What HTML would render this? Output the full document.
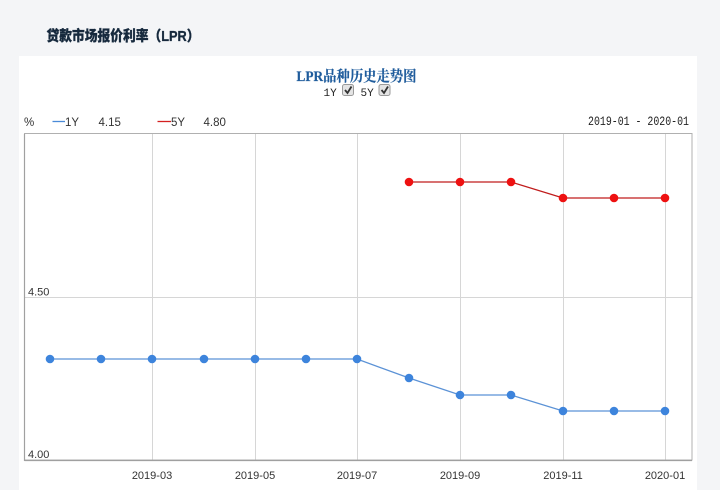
<!DOCTYPE html>
<html><head><meta charset="utf-8"><style>
html,body{margin:0;padding:0;width:720px;height:490px;overflow:hidden;background:#f4f5f7;}
svg{display:block;}
</style></head><body>
<svg width="720" height="490" viewBox="0 0 720 490" xmlns="http://www.w3.org/2000/svg">
<rect x="0" y="0" width="720" height="490" fill="#f4f5f7"/>
<text x="46.5" y="41" font-family="'Liberation Sans','Noto Sans CJK SC',sans-serif" font-weight="900" font-size="14.5" fill="#16293d" stroke="#16293d" stroke-width="0.3" textLength="153" lengthAdjust="spacingAndGlyphs">贷款市场报价利率（LPR）</text>
<rect x="19" y="56" width="678" height="434" fill="#ffffff"/>
<text x="296.5" y="81" font-family="'Liberation Serif','Noto Serif CJK SC',serif" font-weight="bold" font-size="15" fill="#1f5c9c" stroke="#1f5c9c" stroke-width="0.2" textLength="120" lengthAdjust="spacingAndGlyphs">LPR品种历史走势图</text>
<text x="323.5" y="96" font-family="'Liberation Mono',monospace" font-size="11" fill="#222">1Y</text>
<rect x="342.5" y="84.5" width="11" height="11" rx="2" fill="#e4e4e4" stroke="#9a9a9a"/>
<path d="M345 90 L347.5 93 L351.5 86.5" stroke="#333" stroke-width="1.8" fill="none"/>
<text x="360.5" y="96" font-family="'Liberation Mono',monospace" font-size="11" fill="#222">5Y</text>
<rect x="379" y="84.5" width="11" height="11" rx="2" fill="#e4e4e4" stroke="#9a9a9a"/>
<path d="M381.5 90 L384 93 L388 86.5" stroke="#333" stroke-width="1.8" fill="none"/>
<g font-family="'Liberation Sans',sans-serif" font-size="11.5" fill="#333">
<text x="24" y="126">%</text>
<line x1="52.5" y1="121.5" x2="65" y2="121.5" stroke="#4a8ad8" stroke-width="1.3"/>
<text x="65" y="126">1Y</text>
<text x="98.5" y="126">4.15</text>
<line x1="157.5" y1="121.5" x2="171" y2="121.5" stroke="#d42020" stroke-width="1.3"/>
<text x="171" y="126">5Y</text>
<text x="203.5" y="126">4.80</text>
</g>
<text x="588" y="125" font-family="'Liberation Mono',monospace" font-size="12.5" fill="#222" textLength="101" lengthAdjust="spacingAndGlyphs">2019-01 - 2020-01</text>
<g stroke="#d6d6d6" stroke-width="1">
<line x1="152.5" y1="134" x2="152.5" y2="460"/>
<line x1="255.5" y1="134" x2="255.5" y2="460"/>
<line x1="357.5" y1="134" x2="357.5" y2="460"/>
<line x1="460.5" y1="134" x2="460.5" y2="460"/>
<line x1="563.5" y1="134" x2="563.5" y2="460"/>
<line x1="665.5" y1="134" x2="665.5" y2="460"/>
<line x1="24" y1="297.5" x2="692" y2="297.5"/>
</g>
<rect x="24.5" y="133.5" width="667.5" height="326.5" fill="none" stroke="#b0b0b0" stroke-width="1"/>
<line x1="24.5" y1="460.5" x2="692" y2="460.5" stroke="#a0a0a0" stroke-width="1.2"/>
<line x1="24.5" y1="134" x2="24.5" y2="461" stroke="#a0a0a0" stroke-width="1.2"/>
<g font-family="'Liberation Sans',sans-serif" font-size="11" fill="#333">
<text x="28" y="295.5">4.50</text>
<text x="28" y="458">4.00</text>
</g>
<g font-family="'Liberation Sans',sans-serif" font-size="11" fill="#333" text-anchor="middle">
<text x="152" y="479">2019-03</text>
<text x="255" y="479">2019-05</text>
<text x="357" y="479">2019-07</text>
<text x="460" y="479">2019-09</text>
<text x="563" y="479">2019-11</text>
<text x="665" y="479">2020-01</text>
</g>
<polyline points="50,359 101,359 152,359 204,359 255,359 306,359 357,359 409,378 460,395 511,395 563,411 614,411 665,411" fill="none" stroke="#5b92d6" stroke-width="1.3"/>
<g fill="#3d84dc">
<circle cx="50" cy="359" r="4.3"/><circle cx="101" cy="359" r="4.3"/><circle cx="152" cy="359" r="4.3"/><circle cx="204" cy="359" r="4.3"/><circle cx="255" cy="359" r="4.3"/><circle cx="306" cy="359" r="4.3"/><circle cx="357" cy="359" r="4.3"/><circle cx="409" cy="378" r="4.3"/><circle cx="460" cy="395" r="4.3"/><circle cx="511" cy="395" r="4.3"/><circle cx="563" cy="411" r="4.3"/><circle cx="614" cy="411" r="4.3"/><circle cx="665" cy="411" r="4.3"/>
</g>
<polyline points="409,182 460,182 511,182 563,198 614,198 665,198" fill="none" stroke="#c01c1c" stroke-width="1.3"/>
<g fill="#ee1111">
<circle cx="409" cy="182" r="4.3"/><circle cx="460" cy="182" r="4.3"/><circle cx="511" cy="182" r="4.3"/><circle cx="563" cy="198" r="4.3"/><circle cx="614" cy="198" r="4.3"/><circle cx="665" cy="198" r="4.3"/>
</g>
</svg>
</body></html>
